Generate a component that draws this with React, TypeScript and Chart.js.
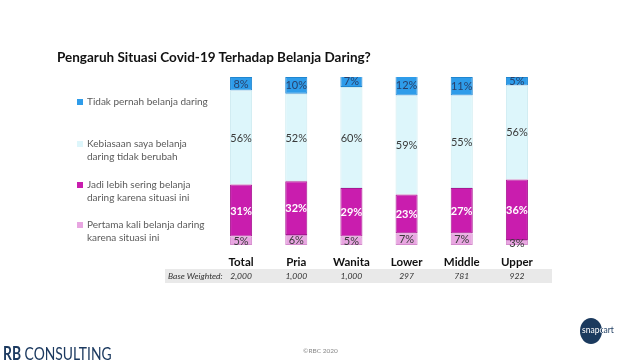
import React, { useEffect, useRef } from "react";
import { Chart, registerables } from "chart.js";

Chart.register(...registerables);

const categories = ["Total", "Pria", "Wanita", "Lower", "Middle", "Upper"];
const baseWeighted = ["2,000", "1,000", "1,000", "297", "781", "922"];
const pertamaKali = [5, 6, 5, 7, 7, 3];
const lebihSering = [31, 32, 29, 23, 27, 36];
const tidakBerubah = [56, 52, 60, 59, 55, 56];
const tidakPernah = [8, 10, 7, 12, 11, 5];

const seriesLabels = [
  "Pertama kali belanja daring karena situasi ini",
  "Jadi lebih sering belanja daring karena situasi ini",
  "Kebiasaan saya belanja daring tidak berubah",
  "Tidak pernah belanja daring",
];
const fills = ["#E8A6E1", "#C91DAE", "#DDF6FB", "#2E9CEA"];
const borders = ["#D58ACD", "#A81892", "#CDEBF1", "#1F86D0"];
const labelColors = ["#3A3A3A", "#FFFFFF", "#3A3A3A", "#28406A"];

const FONT = "Lato, 'Open Sans', sans-serif";

const labelPlugin = {
  id: "segLabels",
  afterDatasetsDraw(chart: any) {
    const ctx = chart.ctx;
    ctx.save();
    ctx.textAlign = "center";
    ctx.textBaseline = "middle";
    chart.data.datasets.forEach((ds: any, di: number) => {
      const meta = chart.getDatasetMeta(di);
      meta.data.forEach((bar: any, i: number) => {
        const y = (bar.y + bar.base) / 2;
        ctx.fillStyle = labelColors[di];
        ctx.font = `${di === 1 ? "bold " : ""}11px ${FONT}`;
        ctx.fillText(ds.data[i] + "%", bar.x, y + 0.5);
      });
    });
    const xs = chart.scales.x;
    ctx.fillStyle = "#E9E9E9";
    ctx.fillRect(165, 269, 387, 14);
    categories.forEach((c, i) => {
      const x = xs.getPixelForValue(i);
      ctx.fillStyle = "#111111";
      ctx.font = `bold 11.5px ${FONT}`;
      ctx.fillText(c, x, 262);
      ctx.fillStyle = "#333333";
      ctx.font = `italic 8.5px ${FONT}`;
      ctx.fillText(baseWeighted[i], x, 276.5);
    });
    ctx.textAlign = "left";
    ctx.fillStyle = "#333333";
    ctx.font = `italic 8.5px ${FONT}`;
    ctx.fillText("Base Weighted:", 168, 276.5);
    ctx.restore();
  },
};

export default function App() {
  const ref = useRef<HTMLCanvasElement>(null);
  useEffect(() => {
    document.body.style.margin = "0";
    const data = [pertamaKali, lebihSering, tidakBerubah, tidakPernah];
    const chart = new Chart(ref.current!, {
      type: "bar",
      data: {
        labels: categories,
        datasets: data.map((d, i) => ({
          label: seriesLabels[i],
          data: d,
          backgroundColor: fills[i],
          borderColor: borders[i],
          borderWidth: 1,
          borderSkipped: false,
          categoryPercentage: 1,
          barPercentage: 0.4,
        })),
      },
      options: {
        responsive: false,
        animation: false,
        events: [],
        layout: { padding: { left: 213.5, right: 99.5, top: 77, bottom: 118 } },
        plugins: { legend: { display: false }, tooltip: { enabled: false }, title: { display: false } },
        scales: {
          x: { stacked: true, display: false },
          y: { stacked: true, display: false, min: 0, max: 100 },
        },
      },
      plugins: [labelPlugin],
    });
    return () => chart.destroy();
  }, []);

  const legendItems = [
    { color: fills[3], lines: ["Tidak pernah belanja daring"], top: 95 },
    { color: fills[2], lines: ["Kebiasaan saya belanja", "daring tidak berubah"], top: 137 },
    { color: fills[1], lines: ["Jadi lebih sering belanja", "daring karena situasi ini"], top: 178 },
    { color: fills[0], lines: ["Pertama kali belanja daring", "karena situasi ini"], top: 218 },
  ];

  const logoText = (color: string) => (
    <div style={{ position: "absolute", left: 2, top: 7, fontSize: 8.5, color, whiteSpace: "nowrap", lineHeight: "10px" }}>snapcart</div>
  );

  return (
    <div style={{ position: "fixed", left: 0, top: 0, width: 644, height: 363, background: "#fff", overflow: "hidden", fontFamily: FONT }}>
      <canvas ref={ref} width={644} height={363} style={{ position: "absolute", left: 0, top: 0, width: 644, height: 363 }} />
      <div style={{ position: "absolute", left: 57, top: 49, fontSize: 13.5, fontWeight: 700, color: "#111", whiteSpace: "nowrap" }}>
        Pengaruh Situasi Covid-19 Terhadap Belanja Daring?
      </div>
      {legendItems.map((it, i) => (
        <div key={i} style={{ position: "absolute", left: 77, top: it.top, display: "flex", alignItems: "flex-start" }}>
          <div style={{ width: 6, height: 6, background: it.color, marginTop: 4, marginRight: 4 }} />
          <div style={{ fontSize: 10, lineHeight: "13px", color: "#5A5A5A", whiteSpace: "nowrap" }}>
            {it.lines.map((l, j) => (
              <div key={j}>{l}</div>
            ))}
          </div>
        </div>
      ))}
      <div style={{ position: "absolute", left: 3, top: 342, fontSize: 18, color: "#1C3A60", whiteSpace: "nowrap", lineHeight: "22px", transform: "scaleX(0.77)", transformOrigin: "left center" }}>
        <b>RB</b> CONSULTING
      </div>
      <div style={{ position: "absolute", left: 303, top: 347, fontSize: 6.5, color: "#888", whiteSpace: "nowrap" }}>©RBC 2020</div>
      <div style={{ position: "absolute", left: 580, top: 318, width: 40, height: 26 }}>
        {logoText("#1B3A5E")}
        <div style={{ position: "absolute", left: 0, top: 0, width: 22, height: 26, borderRadius: "50%", background: "#1B3A5E", overflow: "hidden" }}>
          {logoText("#FFFFFF")}
        </div>
      </div>
    </div>
  );
}
